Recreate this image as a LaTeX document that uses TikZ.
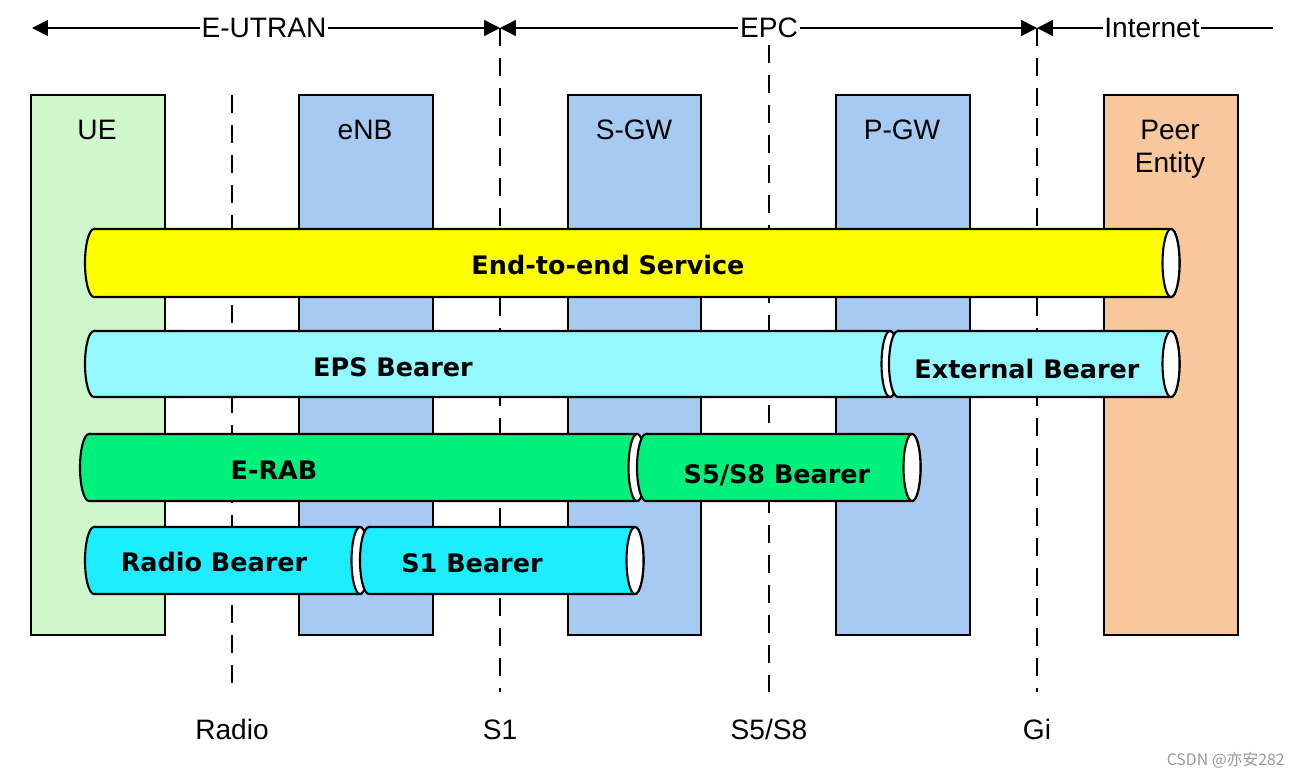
\documentclass[tikz,border=0pt]{standalone}
\usepackage{fontspec}
\setmainfont{Liberation Sans}
\newfontfamily\boldsans{DejaVu Sans}
\newfontfamily\cjk{Noto Sans CJK SC}
\usetikzlibrary{arrows.meta}
\definecolor{uegreen}{HTML}{CEF7CC}
\definecolor{boxblue}{HTML}{A6CAF2}
\definecolor{peer}{HTML}{F8C89C}
\definecolor{pyellow}{HTML}{FFFF00}
\definecolor{pcyanlight}{HTML}{94F8FF}
\definecolor{pgreen}{HTML}{00F07C}
\definecolor{pcyan}{HTML}{1CEEFF}
\tikzset{
  colbox/.style={draw=black, line width=1pt},
  ifline/.style={line width=1pt, dash pattern=on 0.36cm off 0.24cm},
  pipeline/.style={draw=black, line width=1.2pt},
  lab/.style={font=\fontsize{16}{19}\selectfont, anchor=base, inner sep=1pt},
  toplab/.style={lab, fill=white},
  pipetext/.style={font=\boldsans\bfseries\fontsize{14.5}{17}\selectfont, anchor=base, inner sep=0pt},
  span/.style={line width=1pt, {Triangle[length=9pt,width=9pt]}-{Triangle[length=9pt,width=9pt]}},
}
\newcommand{\mypipe}[5]{%
  \pgfmathsetmacro\pry{(#4-#3)/2*0.02}%
  \filldraw[pipeline, fill=#5] (#1,#3) -- (#2,#3)
    arc[start angle=90, end angle=-90, x radius=0.17cm, y radius=\pry cm]
    -- (#1,#4)
    arc[start angle=270, end angle=90, x radius=0.18cm, y radius=\pry cm] -- cycle;
  \filldraw[pipeline, fill=white] (#2,{(#3+#4)/2}) ellipse[x radius=0.17cm, y radius=\pry cm];
}
\begin{document}
\begin{tikzpicture}[x=0.02cm, y=-0.02cm]
\useasboundingbox (0,0) rectangle (1300,778);
\fill[white] (0,0) rectangle (1300,778);
% column boxes
\filldraw[colbox, fill=uegreen] (31,95) rectangle (165,635);
\filldraw[colbox, fill=boxblue] (299,95) rectangle (433,635);
\filldraw[colbox, fill=boxblue] (568,95) rectangle (701,635);
\filldraw[colbox, fill=boxblue] (836,95) rectangle (970,635);
\filldraw[colbox, fill=peer] (1104,95) rectangle (1238,635);
\node[lab] (ue) at (97,139) {UE};
\node[lab] (enb) at (365,139) {eNB};
\node[lab] (sgw) at (634,139) {S-GW};
\node[lab] (pgw) at (902,139) {P-GW};
\node[lab] (peer1) at (1170,139) {Peer};
\node[lab] (peer2) at (1170,172) {Entity};
% interface lines
\coordinate (radT) at (232,95);  \coordinate (radB) at (232,692);
\coordinate (s1T) at (500,28);   \coordinate (s1B) at (500,692);
\coordinate (s5T) at (769,45);   \coordinate (s5B) at (769,692);
\coordinate (giT) at (1037,28);  \coordinate (giB) at (1037,692);
\draw[ifline] (radT) -- (radB);
\draw[ifline] (s1T) -- (s1B);
\draw[ifline] (s5T) -- (s5B);
\draw[ifline] (giT) -- (giB);
\node[lab] (radio) at (232,739) {Radio};
\node[lab] (s1) at (500,739) {S1};
\node[lab] (s5) at (769,739) {S5/S8};
\node[lab] (gi) at (1037,739) {Gi};
% top spans
\coordinate (leftend) at (32,28);
\coordinate (rightend) at (1273,28);
\draw[span] (leftend) -- (s1T);
\draw[span] (s1T) -- (giT);
\draw[line width=1pt, {Triangle[length=9pt,width=9pt]}-] (giT) -- (rightend);
\node[toplab] (eutran) at (264,37) {E-UTRAN};
\node[toplab] (epc) at (769,37) {EPC};
\node[toplab] (internet) at (1152,37) {Internet};
% pipes
\mypipe{94}{1171}{229}{297}{pyellow}
\node[pipetext] (e2e) at (608,274) {End-to-end Service};
\mypipe{94}{890}{331}{397}{pcyanlight}
\mypipe{898}{1171}{331}{397}{pcyanlight}
\node[pipetext] (eps) at (393,376) {EPS Bearer};
\node[pipetext] (ext) at (1027,378) {External Bearer};
\mypipe{89}{637}{434}{501}{pgreen}
\mypipe{646}{912}{434}{501}{pgreen}
\node[pipetext] (erab) at (274,479) {E-RAB};
\node[pipetext] (s5b) at (777,483) {S5/S8 Bearer};
\mypipe{94}{360}{527}{594}{pcyan}
\mypipe{369}{635}{527}{594}{pcyan}
\node[pipetext] (rb) at (214,571) {Radio Bearer};
\node[pipetext] (s1b) at (472,572) {S1 Bearer};
% watermark
\node[anchor=base east, inner sep=0pt, text=black!40, font=\cjk\fontsize{9}{11}\selectfont] (wm) at (1285,765) {CSDN @亦安282};
\end{tikzpicture}
\end{document}
